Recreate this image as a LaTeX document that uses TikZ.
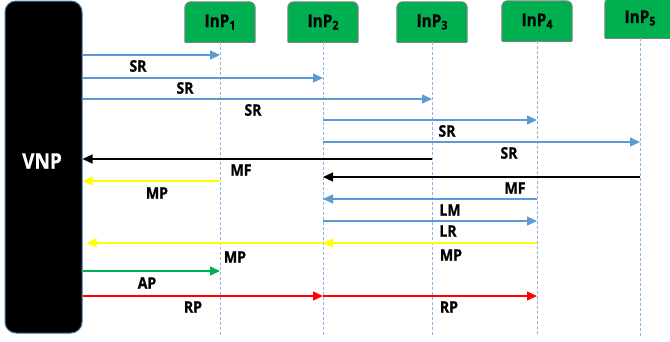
\documentclass[tikz,border=0pt]{standalone}
\usepackage{fontspec}
\setmainfont[FakeStretch=0.88, BoldFeatures={FakeBold=0.7}]{Open Sans}
\usetikzlibrary{arrows.meta}
\definecolor{inpgreen}{HTML}{00B050}
\definecolor{inpgray}{HTML}{7F7F7F}
\definecolor{msgblue}{HTML}{5B9BD5}
\definecolor{lifeblue}{HTML}{8DB4E2}
\definecolor{vnpborder}{HTML}{41719C}
\definecolor{msgyellow}{HTML}{FFFF00}
\definecolor{msggreen}{HTML}{00B050}
\definecolor{msgred}{HTML}{FF0000}
\newcommand{\inpname}[1]{InP\raisebox{-2.5pt}{\fontsize{12}{12}\selectfont #1}}
\begin{document}
\begin{tikzpicture}[x=1pt,y=-1pt,
  inpbox/.style={minimum width=70pt, minimum height=40pt, inner sep=0pt,
    font=\bfseries\fontsize{17.5}{18}\selectfont},
  lifeline/.style={lifeblue, line width=0.9pt, dash pattern=on 3pt off 2pt},
  msg/.style={line width=1.3pt, -{Triangle[length=10pt,width=9pt]}},
  lbl/.style={font=\bfseries\fontsize{16}{16}\selectfont, inner sep=0pt},
]
\useasboundingbox (0,0) rectangle (670,341);
\fill[white] (0,0) rectangle (670,341);

% VNP
\node[draw=vnpborder, line width=1pt, fill=black, rounded corners=11pt,
      minimum width=77pt, minimum height=332pt, inner sep=0pt] (vnp) at (43.5,167) {};
\node[text=white, font=\bfseries\fontsize{21.5}{22}\selectfont, inner sep=0pt] (vnpt) at (42,161) {VNP};

% InP boxes
\node[inpbox] (p1) at (220,22) {};
\node[inpbox] (p2) at (323,22) {};
\node[inpbox] (p3) at (432,22) {};
\node[inpbox] (p4) at (537,21) {};
\node[inpbox] (p5) at (640,18) {};
\foreach \n in {p1,p2,p3,p4,p5}{
  \path[fill=inpgreen, draw=inpgray, line width=1pt, rounded corners=6pt]
    (\n.south west) -- (\n.north west) -- (\n.north east) -- (\n.south east);
  \draw[inpgray, line width=1pt] (\n.south west) -- (\n.south east);
}
\node[inpbox] (t1) at (p1) {\inpname{1}};
\node[inpbox] (t2) at (p2) {\inpname{2}};
\node[inpbox] (t3) at (p3) {\inpname{3}};
\node[inpbox] (t4) at (p4) {\inpname{4}};
\node[inpbox] (t5) at (p5) {\inpname{5}};

% lifelines
\coordinate (bot) at (0,336);
\foreach \n in {p1,p2,p3,p4,p5}{
  \draw[lifeline] (\n.south) -- (\n |- bot);
}

% messages
\draw[msg, msgblue] (vnp.east |- 0,55) -- (p1 |- 0,55);
\node[lbl] (l1) at (138,66) {SR};
\draw[msg, msgblue] (vnp.east |- 0,78) -- (p2 |- 0,78);
\node[lbl] (l2) at (185,88) {SR};
\draw[msg, msgblue] (vnp.east |- 0,99) -- (p3 |- 0,99);
\node[lbl] (l3) at (253,110) {SR};
\draw[msg, msgblue] (p2 |- 0,120) -- (p4 |- 0,120);
\node[lbl] (l4) at (447,131) {SR};
\draw[msg, msgblue] (p2 |- 0,142) -- (p5 |- 0,142);
\node[lbl] (l5) at (509,153) {SR};
\draw[msg, black] (p3 |- 0,159) -- (vnp.east |- 0,159);
\node[lbl] (l6) at (241,170) {MF};
\draw[msg, msgyellow] (p1 |- 0,181) -- (vnp.east |- 0,181);
\node[lbl] (l7) at (157,193) {MP};
\draw[msg, black] (p5 |- 0,177) -- (p2 |- 0,177);
\node[lbl] (l8) at (515,188) {MF};
\draw[msg, msgblue] (p4 |- 0,199) -- (p2 |- 0,199);
\node[lbl] (l9) at (450,210) {LM};
\draw[msg, msgblue] (p2 |- 0,221) -- (p4 |- 0,221);
\node[lbl] (l10) at (448,231) {LR};
\draw[msg, msgyellow] (p4 |- 0,243) -- (p2 |- 0,243);
\draw[msg, msgyellow, shorten >=4pt] (p2 |- 0,243) -- (vnp.east |- 0,243);
\node[lbl] (l11) at (235,257) {MP};
\node[lbl] (l12) at (451,255) {MP};
\draw[msg, msggreen] (vnp.east |- 0,271) -- (p1 |- 0,271);
\node[lbl] (l13) at (147,283) {AP};
\draw[msg, msgred] (vnp.east |- 0,296) -- (p2 |- 0,296);
\draw[msg, msgred] (p2 |- 0,296) -- (p4 |- 0,296);
\node[lbl] (l14) at (193,307) {RP};
\node[lbl] (l15) at (449,307) {RP};
\end{tikzpicture}
\end{document}
